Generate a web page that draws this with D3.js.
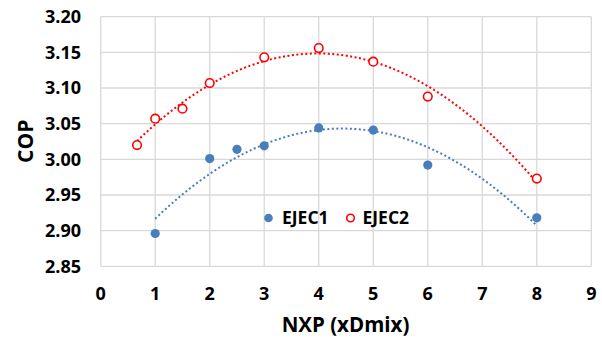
<!DOCTYPE html>
<html><head><meta charset="utf-8">
<script src="https://cdn.jsdelivr.net/npm/d3@7"></script>
<style>body{margin:0;background:#fff}svg{display:block}text{font-family:"Open Sans",sans-serif;font-weight:bold;fill:#000}</style>
</head><body><svg id="c" width="602" height="341"></svg>
<script>
const ejec1X = [1, 2, 2.5, 3, 4, 5, 6, 8];
const ejec1Y = [2.896, 3.001, 3.014, 3.019, 3.044, 3.041, 2.992, 2.918];
const ejec2X = [0.667, 1, 1.5, 2, 3, 4, 5, 6, 8];
const ejec2Y = [3.020, 3.057, 3.071, 3.107, 3.143, 3.156, 3.137, 3.088, 2.973];
const xTicks = [0,1,2,3,4,5,6,7,8,9];
const yTicks = [2.85,2.90,2.95,3.00,3.05,3.10,3.15,3.20];
const seriesNames = ["EJEC1","EJEC2"];

function quadFit(xs, ys){
  // least squares y = a + b x + c x^2
  let S=[0,0,0,0,0], T=[0,0,0];
  xs.forEach((x,i)=>{let p=1;for(let k=0;k<5;k++){S[k]+=p;p*=x;} T[0]+=ys[i];T[1]+=ys[i]*x;T[2]+=ys[i]*x*x;});
  const M=[[S[0],S[1],S[2],T[0]],[S[1],S[2],S[3],T[1]],[S[2],S[3],S[4],T[2]]];
  for(let i=0;i<3;i++){for(let j=i+1;j<3;j++){const f=M[j][i]/M[i][i];for(let k=i;k<4;k++)M[j][k]-=f*M[i][k];}}
  const r=[0,0,0];
  for(let i=2;i>=0;i--){let s=M[i][3];for(let k=i+1;k<3;k++)s-=M[i][k]*r[k];r[i]=s/M[i][i];}
  return x=>r[0]+r[1]*x+r[2]*x*x;
}

const svg=d3.select("#c");
const m={l:100.7,r:591.3,t:16.7,b:266.3};
const x=d3.scaleLinear().domain([0,9]).range([m.l,m.r]);
const y=d3.scaleLinear().domain([2.85,3.20]).range([m.b,m.t]);

// grid
svg.append("g").selectAll("line").data(xTicks).join("line")
  .attr("x1",d=>x(d)).attr("x2",d=>x(d)).attr("y1",m.t).attr("y2",m.b)
  .attr("stroke","#d9d9d9").attr("stroke-width",1.3);
svg.append("g").selectAll("line").data(yTicks).join("line")
  .attr("y1",d=>y(d)).attr("y2",d=>y(d)).attr("x1",m.l).attr("x2",m.r)
  .attr("stroke","#d9d9d9").attr("stroke-width",1.3);

// tick labels
svg.append("g").selectAll("text").data(yTicks).join("text")
  .attr("x",81).attr("y",d=>y(d)).attr("dy","0.36em").attr("text-anchor","end")
  .style("font-size","18px").text(d=>d.toFixed(2));
svg.append("g").selectAll("text").data(xTicks).join("text")
  .attr("x",d=>x(d)).attr("y",294).attr("dy","0.36em").attr("text-anchor","middle")
  .style("font-size","18px").text(d=>d);

// titles
svg.append("text").attr("transform","translate(33,141.3) rotate(-90)").attr("text-anchor","middle")
  .style("font-size","21px").text("COP");
svg.append("text").attr("x",345.5).attr("y",332).attr("text-anchor","middle")
  .style("font-size","20.5px").text("NXP (xDmix)");

// trendlines
const blue="#4a7ebb", red="#ff0000";
function trend(xs,ys,color){
  const f=quadFit(xs,ys);
  const x0=d3.min(xs), x1=d3.max(xs);
  const pts=d3.range(0,101).map(i=>x0+(x1-x0)*i/100);
  svg.append("path").datum(pts)
    .attr("d",d3.line().x(d=>x(d)).y(d=>y(f(d))))
    .attr("fill","none").attr("stroke",color).attr("stroke-width",2)
    .attr("stroke-dasharray","2,2.5");
}
trend(ejec1X,ejec1Y,blue);
trend(ejec2X,ejec2Y,red);

// points
svg.append("g").selectAll("circle").data(ejec1X).join("circle")
  .attr("cx",d=>x(d)).attr("cy",(d,i)=>y(ejec1Y[i])).attr("r",4.6).attr("fill",blue);
svg.append("g").selectAll("circle").data(ejec2X).join("circle")
  .attr("cx",d=>x(d)).attr("cy",(d,i)=>y(ejec2Y[i])).attr("r",4.3)
  .attr("fill","#fff").attr("stroke",red).attr("stroke-width",1.6);

// legend
const lg=svg.append("g");
lg.append("circle").attr("cx",268.5).attr("cy",218).attr("r",4.3).attr("fill",blue);
lg.append("text").attr("x",282).attr("y",218).attr("dy","0.36em").style("font-size","17.5px").text(seriesNames[0]);
lg.append("circle").attr("cx",350.5).attr("cy",218).attr("r",3.8).attr("fill","#fff").attr("stroke",red).attr("stroke-width",1.6);
lg.append("text").attr("x",362.5).attr("y",218).attr("dy","0.36em").style("font-size","17.5px").text(seriesNames[1]);
</script></body></html>
